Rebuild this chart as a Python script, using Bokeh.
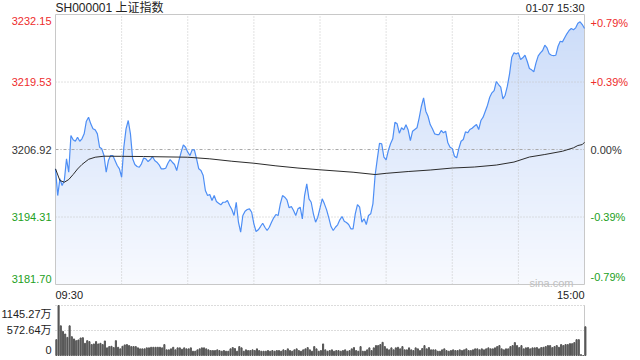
import numpy as np
from bokeh.plotting import figure
from bokeh.models import Range1d, Label
from bokeh.embed import file_html
from bokeh.resources import INLINE

# ---------------- data ----------------
title_text = "SH000001 上证指数"
stamp_text = "01-07 15:30"
watermark = "sina.com"
prev_close = 3206.92
price_levels = [3181.70, 3194.31, 3206.92, 3219.53, 3232.15]
pct_labels = ["-0.79%", "-0.39%", "0.00%", "+0.39%", "+0.79%"]
time_labels = ["09:30", "15:00"]
half_hour_ticks = [30, 60, 90, 120, 150, 180, 210]
vol_levels = [0, 572.64, 1145.27]
vol_labels = ["0", "572.64万", "1145.27万"]

minutes = list(range(241))

prices = [
    3203.31, 3198.32, 3201.45, 3200.19, 3201.13, 3205.18, 3202.68, 3209.54, 3208.73, 3208.47,
    3209.22, 3208.47, 3208.92, 3209.85, 3212.21, 3212.96, 3211.72, 3210.79, 3210.60, 3209.85,
    3207.35, 3207.05, 3205.80, 3202.68, 3204.86, 3205.80, 3205.80, 3204.86, 3203.93, 3203.31,
    3201.74, 3207.35, 3210.79, 3212.34, 3209.85, 3205.18, 3204.12, 3203.74, 3203.61, 3204.25,
    3205.33, 3205.18, 3204.68, 3205.05, 3205.61, 3204.86, 3204.55, 3204.06, 3203.31, 3203.31,
    3203.43, 3204.36, 3205.05, 3204.55, 3204.12, 3203.00, 3204.86, 3206.42, 3207.80, 3207.35,
    3206.42, 3205.80, 3206.86, 3206.86, 3205.18, 3203.31, 3203.00, 3202.06, 3199.26, 3198.32,
    3198.51, 3197.39, 3198.32, 3197.20, 3196.89, 3196.59, 3197.07, 3197.07, 3197.39, 3196.46,
    3195.71, 3194.59, 3197.07, 3193.34, 3191.47, 3194.59, 3195.39, 3195.71, 3195.84, 3195.20,
    3193.04, 3191.60, 3191.92, 3192.53, 3193.15, 3192.40, 3191.79, 3192.40, 3193.34, 3194.16,
    3194.78, 3194.59, 3196.77, 3198.32, 3198.01, 3197.52, 3196.03, 3196.27, 3195.52, 3194.59,
    3195.84, 3196.14, 3193.97, 3198.32, 3200.51, 3197.71, 3197.07, 3194.91, 3193.34, 3194.27,
    3195.99, 3197.71, 3196.77, 3195.65, 3194.16, 3192.53, 3191.79, 3192.40, 3192.85, 3193.78,
    3194.40, 3193.52, 3193.28, 3192.91, 3192.10, 3192.10, 3194.91, 3196.64, 3196.14, 3193.34,
    3193.97, 3192.91, 3194.59, 3194.91, 3196.77, 3202.06, 3205.18, 3208.10, 3207.99, 3205.48,
    3205.00, 3206.73, 3207.99, 3208.92, 3212.02, 3211.72, 3209.97, 3210.98, 3210.60, 3211.54,
    3210.56, 3208.60, 3210.34, 3210.66, 3210.98, 3212.84, 3215.01, 3216.58, 3214.08, 3213.14,
    3211.59, 3210.79, 3209.85, 3209.72, 3209.72, 3210.47, 3210.04, 3210.34, 3208.17, 3207.35,
    3207.11, 3205.67, 3205.37, 3207.11, 3208.47, 3208.79, 3210.23, 3210.04, 3210.66, 3210.90,
    3211.27, 3211.59, 3210.66, 3212.34, 3212.96, 3214.08, 3215.20, 3216.69, 3217.51, 3217.94,
    3219.63, 3219.07, 3218.56, 3216.39, 3217.07, 3218.75, 3221.07, 3224.17, 3224.99, 3224.80,
    3224.99, 3223.74, 3224.05, 3224.54, 3223.42, 3222.06, 3221.81, 3221.44, 3223.12, 3224.43,
    3224.99, 3225.42, 3226.41, 3225.92, 3224.80, 3224.54, 3224.48, 3224.54, 3226.22, 3227.16,
    3227.04, 3227.79, 3228.54, 3229.16, 3229.53, 3229.29, 3229.66, 3230.52, 3230.78, 3230.28,
    3229.53,
]

avg_minutes = [0, 2, 4, 6, 8, 10, 12, 15, 18, 22, 30, 40, 60, 70, 80, 90, 100, 110, 120,
               135, 145, 150, 160, 170, 180, 190, 200, 208, 215, 222, 230, 235, 237, 239, 240]
avg_prices = [3203.31, 3201.13, 3200.81, 3201.31, 3202.25, 3203.28, 3204.12, 3205.09, 3205.48,
              3205.67, 3205.65, 3205.61, 3205.48, 3205.18, 3204.73, 3204.36, 3203.87, 3203.46,
              3203.13, 3202.68, 3202.25, 3202.47, 3202.81, 3203.09, 3203.46, 3203.65, 3204.02,
              3204.58, 3205.52, 3205.99, 3206.60, 3207.24, 3207.67, 3207.85, 3208.28]

volumes = [
    363, 1145.27, 680, 551, 492, 415, 680, 431, 379, 340,
    356, 401, 408, 279, 340, 318, 250, 265, 318, 265,
    279, 250, 333, 175, 204, 211, 181, 340, 188, 152,
    211, 243, 250, 227, 204, 204, 204, 175, 152, 152,
    152, 175, 175, 188, 188, 188, 188, 188, 175, 250,
    129, 129, 152, 188, 129, 175, 175, 143, 175, 152,
    152, 175, 98, 98, 129, 152, 175, 175, 152, 129,
    113, 113, 113, 129, 113, 98, 113, 98, 98, 152,
    181, 159, 98, 204, 175, 98, 129, 113, 113, 129,
    113, 152, 113, 98, 98, 98, 113, 98, 113, 98,
    113, 113, 98, 129, 113, 152, 113, 98, 129, 152,
    113, 98, 129, 152, 181, 129, 98, 204, 152, 98,
    113, 265, 129, 98, 113, 129, 98, 113, 113, 98,
    113, 129, 98, 113, 152, 181, 113, 98, 204, 98,
    98, 129, 175, 113, 175, 227, 227, 250, 302, 204,
    152, 129, 175, 129, 175, 188, 152, 204, 129, 129,
    175, 129, 113, 175, 152, 113, 159, 227, 152, 181,
    129, 129, 129, 98, 98, 129, 152, 113, 98, 113,
    129, 113, 113, 129, 113, 129, 152, 113, 113, 129,
    152, 152, 129, 152, 129, 152, 175, 152, 152, 175,
    204, 227, 152, 129, 152, 152, 204, 227, 295, 227,
    181, 227, 152, 175, 181, 152, 175, 175, 181, 152,
    181, 188, 204, 227, 227, 181, 204, 227, 188, 250,
    227, 250, 250, 272, 272, 295, 363, 363, 20, 0,
    658,
]

# ---------------- layout (pixels) ----------------
W, H = 640, 360
PX_L, PX_R = 55, 584          # plot area left/right
PX_T, PX_B = 14, 284          # price panel top/bottom
VX_T, VX_B = 305, 355         # volume panel top/bottom

ymin, ymax = price_levels[0], price_levels[-1]
vmax = vol_levels[-1]
xmin, xmax = minutes[0], minutes[-1]

sx = (PX_R - PX_L) / (xmax - xmin)
sy = (PX_B - PX_T) / (ymax - ymin)
sv = (VX_B - VX_T) / vmax

x_range = Range1d(xmin - PX_L / sx, xmax + (W - PX_R) / sx)
y_range = Range1d(ymin - (H - PX_B) / sy, ymax + PX_T / sy)
v_range = Range1d(0 - (H - VX_B) / sv, vmax + VX_T / sv)

RED = "#ee2c2c"
GREEN = "#22a022"
DARK = "#333333"
TXT = "#222222"
GRID = "#c4c4c4"
FONT = "Liberation Sans, Noto Sans CJK SC"
LABEL_SIZE = "11px"

p = figure(width=W, height=H, x_range=x_range, y_range=y_range,
           output_backend="svg", toolbar_location=None,
           min_border=0, min_border_left=0, min_border_right=0,
           min_border_top=0, min_border_bottom=0)
p.extra_y_ranges = {"vol": v_range}
p.xaxis.visible = False
p.yaxis.visible = False
p.xgrid.visible = False
p.ygrid.visible = False
p.outline_line_color = None
p.background_fill_color = "white"
p.border_fill_color = "white"

# vertical gradient under the price line
n = 270
t = np.linspace(0.0, 1.0, n)[:, None]
top_rgb = np.array([203, 220, 249], dtype=float)
bot_rgb = np.array([248, 250, 255], dtype=float)
rgb = bot_rgb + (top_rgb - bot_rgb) * t
img = np.zeros((n, 1, 4), dtype=np.uint8)
img[..., :3] = rgb[:, None, :].astype(np.uint8)
img[..., 3] = 255
img32 = img.view(np.uint32).reshape(n, 1)
g = p.image_rgba(image=[img32], x=xmin, y=ymin, dw=xmax - xmin, dh=ymax - ymin)
g.level = "image"
mask = p.varea(x=minutes, y1=prices, y2=ymax, fill_color="white")
mask.level = "image"

# grid lines of the price panel
r = p.segment(x0=half_hour_ticks, y0=[ymin] * len(half_hour_ticks),
              x1=half_hour_ticks, y1=[ymax] * len(half_hour_ticks),
              line_color=GRID, line_width=1, line_dash="1 2")
r.level = "underlay"
hl = [price_levels[1], price_levels[3]]
r = p.segment(x0=[xmin] * 2, y0=hl, x1=[xmax] * 2, y1=hl,
              line_color=GRID, line_width=1, line_dash="1 2")
r.level = "underlay"
r = p.segment(x0=[xmin], y0=[prev_close], x1=[xmax], y1=[prev_close],
              line_color="#a8a8a8", line_width=1, line_dash="3 2 1 2")
r.level = "underlay"

# frame of the price panel
p.quad(left=xmin, right=xmax, bottom=ymin, top=ymax, fill_color=None,
       line_color="#c8c8c8", line_width=1)

# price and average lines
p.line(minutes, prices, line_color="#4d8ef5", line_width=1.2)
p.line(avg_minutes, avg_prices, line_color="#2b2b2b", line_width=1)

# volume panel
vl = vol_levels[1:]
p.segment(x0=[xmin] * 2, y0=vl, x1=[xmax] * 2, y1=vl, line_color="#b8b8b8",
          line_width=1, line_dash="1 2", y_range_name="vol")
p.segment(x0=[xmax], y0=[0], x1=[xmax], y1=[vmax], line_color="#c8c8c8",
          line_width=1, y_range_name="vol")
p.vbar(x=[m + 0.4 for m in minutes], top=volumes, width=0.5, color="#555555",
       y_range_name="vol")

def lab(x, y, text, color, align, baseline, xo=0, yo=0, size=LABEL_SIZE, yr="default"):
    p.add_layout(Label(x=x, y=y, text=text, text_color=color, text_align=align,
                       text_baseline=baseline, x_offset=xo, y_offset=yo,
                       text_font=FONT, text_font_size=size, y_range_name=yr))

level_colors = [GREEN, GREEN, DARK, RED, RED]
for k, (lv, pl, c) in enumerate(zip(price_levels, pct_labels, level_colors)):
    if k == 0:
        bl, yo = "bottom", 2
    elif k == len(price_levels) - 1:
        bl, yo = "top", -2
    else:
        bl, yo = "middle", 0
    lab(xmin, lv, f"{lv:.2f}", c, "right", bl, xo=-4, yo=yo)
    lab(xmax, lv, pl, c, "left", bl, xo=6, yo=yo)

lab(xmin, ymax, title_text, TXT, "left", "middle", xo=0, yo=7, size="12px")
lab(xmax, ymax, stamp_text, TXT, "right", "middle", xo=0, yo=7)
lab(xmin, ymin, time_labels[0], TXT, "left", "middle", xo=0, yo=-10)
lab(xmax, ymin, time_labels[1], TXT, "right", "middle", xo=0, yo=-10)
lab(xmax, ymin, watermark, "#c0c0c0", "right", "alphabetic", xo=-11, yo=2)

lab(xmin, vol_levels[2], vol_labels[2], TXT, "right", "top", xo=-4, yo=-2, yr="vol")
lab(xmin, vol_levels[1], vol_labels[1], TXT, "right", "middle", xo=-4, yr="vol")
lab(xmin, vol_levels[0], vol_labels[0], TXT, "right", "bottom", xo=-4, yo=2, yr="vol")

open("out.html", "w").write(file_html(p, INLINE))
